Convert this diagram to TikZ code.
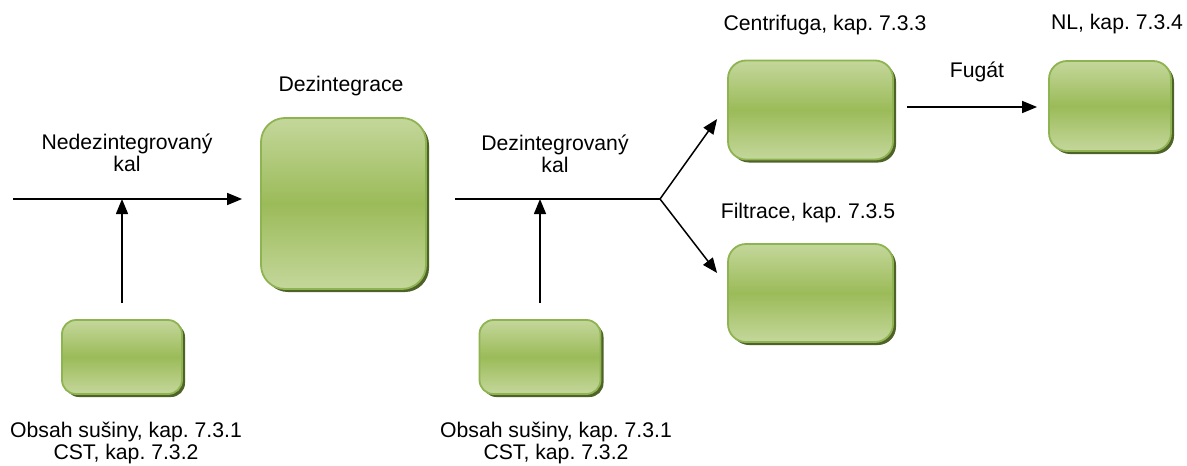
\documentclass[tikz,border=0pt]{standalone}
\usepackage{fontspec}
\setmainfont{Liberation Sans}
\usetikzlibrary{positioning, calc, arrows.meta, shadows}
\frenchspacing

\definecolor{boxlight}{RGB}{196,215,155}
\definecolor{boxmid}{RGB}{155,187,89}
\definecolor{boxline}{RGB}{141,180,80}
\definecolor{boxshadow}{RGB}{79,98,40}

\tikzset{
  stagebox/.style={draw=boxline, line width=1.8pt, rounded corners=#1, inner sep=0pt,
    top color=boxlight, bottom color=boxlight, middle color=boxmid,
    drop shadow={shadow xshift=3pt, shadow yshift=-3pt, fill=boxshadow, opacity=1}},
  stagebox/.default=14pt,
  flow/.style={line width=1.5pt, -{Triangle[length=15pt,width=12pt]}},
  lbl/.style={align=center, font=\fontsize{21.2}{22}\selectfont, inner sep=0pt}
}

\begin{document}
\begin{tikzpicture}[x=1pt, y=-1pt]
  \useasboundingbox (0,0) rectangle (1187,466);

  % boxes
  \node[stagebox=24pt, minimum width=165pt, minimum height=171pt] (dez) at (343.5,203.5) {};
  \node[stagebox, minimum width=120pt, minimum height=74pt] (dry1) at (122,357) {};
  \node[stagebox, minimum width=121pt, minimum height=74pt] (dry2) at (540,357) {};
  \node[stagebox=18pt, minimum width=165pt, minimum height=99pt] (centrifuga) at (810.5,110) {};
  \node[stagebox=18pt, minimum width=165pt, minimum height=98pt] (filtrace) at (810.5,293) {};
  \node[stagebox=18pt, minimum width=122pt, minimum height=90pt] (nl) at (1110,106) {};

  % labels
  \node[lbl] (lbl-in) at (127,153) {Nedezintegrovaný\\kal};
  \node[lbl] (lbl-dez) at (341,86) {Dezintegrace};
  \node[lbl] (lbl-out) at (555,154) {Dezintegrovaný\\kal};
  \node[lbl] (lbl-cen) at (825,25) {Centrifuga, kap. 7.3.3};
  \node[lbl] (lbl-nl) at (1117,24) {NL, kap. 7.3.4};
  \node[lbl] (lbl-fug) at (977,72) {Fugát};
  \node[lbl] (lbl-fil) at (808,213) {Filtrace, kap. 7.3.5};
  \node[lbl] (lbl-dry1) at (126,443) {Obsah sušiny, kap. 7.3.1\\CST, kap. 7.3.2};
  \node[lbl] (lbl-dry2) at (556,443) {Obsah sušiny, kap. 7.3.1\\CST, kap. 7.3.2};

  % connectors
  \coordinate (in) at (13,199);
  \coordinate (split) at (660,199);
  \draw[flow, shorten >=18pt] (in) -- (in -| dez.west);
  \draw[flow, shorten <=16pt] (dry1.north) -- (dry1.north |- in);
  \draw[line width=1.5pt, shorten <=28pt] (dez.east |- split) -- (split);
  \draw[flow, shorten <=16pt] (dry2.north) -- (dry2.north |- split);
  \draw[flow] (split) -- ($(centrifuga.west)+(-10,9)$);
  \draw[flow] (split) -- ($(filtrace.west)+(-10,-20)$);
  \draw[flow, shorten <=13pt, shorten >=11pt] ($(centrifuga.east)+(0,-3)$) -- ($(centrifuga.east -| nl.west)+(0,-3)$);
\end{tikzpicture}
\end{document}
